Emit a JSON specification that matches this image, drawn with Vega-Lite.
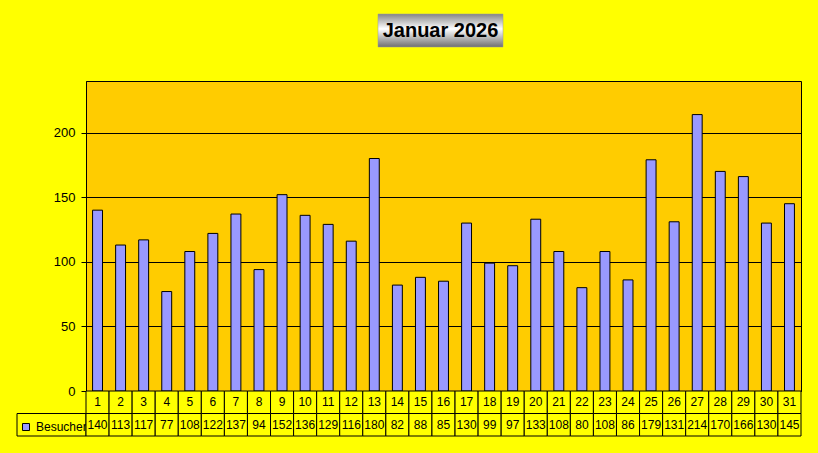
{
  "$schema": "https://vega.github.io/schema/vega-lite/v6.json",
  "background": "#FFFF00",
  "padding": {"left": 16, "top": 13, "right": 18, "bottom": 19},
  "autosize": {"type": "pad"},
  "config": {
    "view": {"stroke": null},
    "font": "Liberation Sans",
    "text": {"font": "Liberation Sans"}
  },
  "data": {
    "values": [
      {"Tag": 1, "Besucher": 140}, {"Tag": 2, "Besucher": 113}, {"Tag": 3, "Besucher": 117},
      {"Tag": 4, "Besucher": 77}, {"Tag": 5, "Besucher": 108}, {"Tag": 6, "Besucher": 122},
      {"Tag": 7, "Besucher": 137}, {"Tag": 8, "Besucher": 94}, {"Tag": 9, "Besucher": 152},
      {"Tag": 10, "Besucher": 136}, {"Tag": 11, "Besucher": 129}, {"Tag": 12, "Besucher": 116},
      {"Tag": 13, "Besucher": 180}, {"Tag": 14, "Besucher": 82}, {"Tag": 15, "Besucher": 88},
      {"Tag": 16, "Besucher": 85}, {"Tag": 17, "Besucher": 130}, {"Tag": 18, "Besucher": 99},
      {"Tag": 19, "Besucher": 97}, {"Tag": 20, "Besucher": 133}, {"Tag": 21, "Besucher": 108},
      {"Tag": 22, "Besucher": 80}, {"Tag": 23, "Besucher": 108}, {"Tag": 24, "Besucher": 86},
      {"Tag": 25, "Besucher": 179}, {"Tag": 26, "Besucher": 131}, {"Tag": 27, "Besucher": 214},
      {"Tag": 28, "Besucher": 170}, {"Tag": 29, "Besucher": 166}, {"Tag": 30, "Besucher": 130},
      {"Tag": 31, "Besucher": 145}
    ]
  },
  "spacing": 0,
  "resolve": {"scale": {"color": "independent"}, "legend": {"color": "independent"}},
  "vconcat": [
    {
      "spacing": 0,
      "hconcat": [
        {
          "data": {"values": [{}]},
          "width": 360,
          "height": 66,
          "mark": {"type": "rect", "opacity": 0}
        },
        {
          "data": {"values": [{"Titel": "Januar 2026"}]},
          "width": 125,
          "height": 33,
          "layer": [
            {
              "mark": {
                "type": "rect",
                "stroke": "#9a9a9a",
                "strokeWidth": 0.5,
                "fill": {
                  "gradient": "linear",
                  "x1": 0, "y1": 0, "x2": 0, "y2": 1,
                  "stops": [
                    {"offset": 0, "color": "#858585"},
                    {"offset": 0.45, "color": "#ffffff"},
                    {"offset": 1, "color": "#707070"}
                  ]
                }
              }
            },
            {
              "mark": {"type": "text", "fontSize": 20, "fontWeight": "bold", "color": "black", "font": "Liberation Sans"},
              "encoding": {"text": {"field": "Titel"}}
            }
          ]
        }
      ]
    },
    {
      "columns": 2,
      "spacing": 0,
      "bounds": "flush",
      "resolve": {"scale": {"color": "independent"}, "legend": {"color": "independent"}},
      "concat": [
        {
          "data": {"values": [{}]},
          "width": 69,
          "height": 310,
          "mark": {"type": "rect", "opacity": 0}
        },
        {
          "width": 715,
          "height": 310,
          "view": {"stroke": "black", "strokeWidth": 1, "fill": "#FFCC00"},
          "mark": {"type": "bar", "fill": "#9999FF", "stroke": "black", "strokeWidth": 1, "width": {"band": 0.43}},
          "encoding": {
            "x": {"field": "Tag", "type": "ordinal", "scale": {"paddingInner": 0, "paddingOuter": 0}, "axis": null},
            "y": {
              "field": "Besucher",
              "type": "quantitative",
              "scale": {"domain": [0, 240], "nice": false},
              "axis": {
                "title": null,
                "values": [0, 50, 100, 150, 200],
                "grid": true,
                "gridColor": "black",
                "gridOpacity": 1,
                "gridWidth": 1,
                "domainColor": "black",
                "tickColor": "black",
                "tickSize": 5,
                "labelPadding": 6,
                "labelFontSize": 13,
                "labelColor": "black",
                "labelFont": "Liberation Sans"
              }
            }
          }
        },
        {
          "width": 69,
          "height": 45,
          "layer": [
            {
              "data": {"values": [{"Zeile": "Besucher"}]},
              "mark": {"type": "rect", "fill": "#FFFF00", "stroke": "black", "strokeWidth": 1},
              "encoding": {
                "y": {"field": "Zeile", "type": "nominal", "scale": {"domain": ["Tag", "Besucher"], "paddingInner": 0, "paddingOuter": 0}, "axis": null}
              }
            },
            {
              "data": {"values": [{"Zeile": "Besucher"}]},
              "mark": {"type": "rect", "opacity": 0},
              "encoding": {
                "color": {
                  "field": "Zeile",
                  "type": "nominal",
                  "scale": {"range": ["#9999FF"]},
                  "legend": {
                    "orient": "bottom-left",
                    "offset": 0,
                    "padding": 3,
                    "title": null,
                    "symbolType": "square",
                    "symbolSize": 49,
                    "symbolStrokeColor": "black",
                    "symbolStrokeWidth": 1,
                    "symbolOpacity": 1,
                    "labelFontSize": 12,
                    "labelColor": "black",
                    "labelFont": "Liberation Sans",
                    "labelOffset": 4
                  }
                }
              }
            }
          ]
        },
        {
          "width": 715,
          "height": 45,
          "transform": [{"fold": ["Tag", "Besucher"], "as": ["Zeile", "Wert"]}],
          "encoding": {
            "x": {"field": "Tag", "type": "ordinal", "scale": {"paddingInner": 0, "paddingOuter": 0}, "axis": null},
            "y": {"field": "Zeile", "type": "nominal", "sort": ["Tag", "Besucher"], "scale": {"paddingInner": 0, "paddingOuter": 0}, "axis": null}
          },
          "layer": [
            {"mark": {"type": "rect", "fill": "#FFFF00", "stroke": "black", "strokeWidth": 1}},
            {
              "mark": {"type": "text", "fontSize": 12, "color": "black", "font": "Liberation Sans"},
              "encoding": {"text": {"field": "Wert"}}
            }
          ]
        }
      ]
    }
  ]
}
